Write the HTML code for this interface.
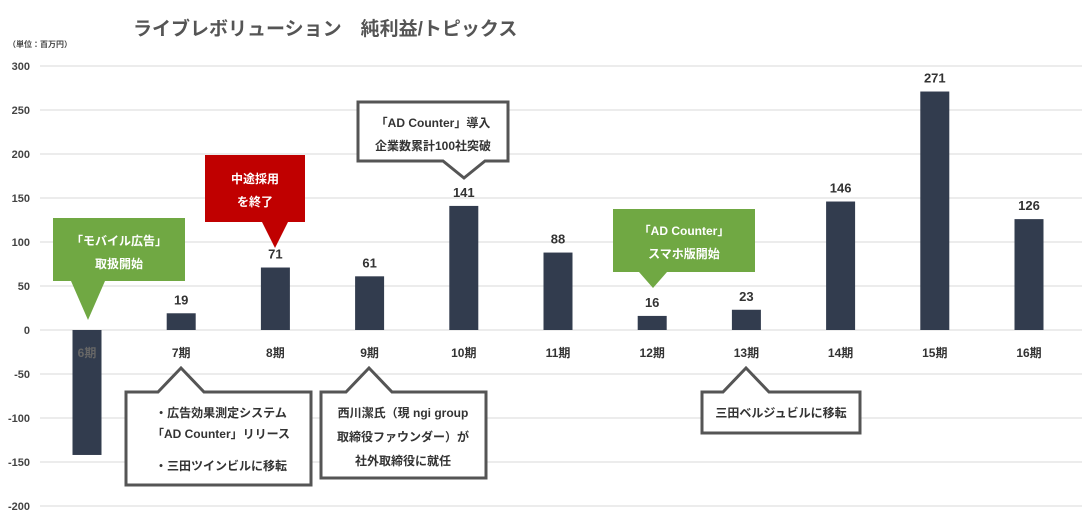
<!DOCTYPE html>
<html><head><meta charset="utf-8"><style>
body{margin:0;background:#fff;}
svg text{font-family:"Liberation Sans","Noto Sans CJK JP",sans-serif;font-weight:bold;}
</style></head><body>
<svg id="chart" width="1089" height="526" viewBox="0 0 1089 526" xmlns="http://www.w3.org/2000/svg">
<text x="133" y="35" font-size="19" fill="#555">ライブレボリューション　純利益/トピックス</text>
<text x="8" y="47" font-size="8" fill="#444">（単位：百万円）</text>
<g id="grid"></g><g id="bars"></g>

<g>
<polygon points="53,218 185,218 185,281 105,281 88,320 71,281 53,281" fill="#70a843"/>
<text x="119" y="245" font-size="12" fill="#fff" text-anchor="middle">「モバイル広告」</text>
<text x="119" y="268" font-size="12" fill="#fff" text-anchor="middle">取扱開始</text></g>

<g>
<polygon points="205,155 305,155 305,222 288,222 275,248 262,222 205,222" fill="#c00000"/>
<text x="255" y="183" font-size="12" fill="#fff" text-anchor="middle">中途採用</text>
<text x="255" y="206" font-size="12" fill="#fff" text-anchor="middle">を終了</text></g>

<g>
<polygon points="358,102 508,102 508,161 485,161 464,178 443,161 358,161" fill="#fff" stroke="#555" stroke-width="3"/>
<text x="433" y="127" font-size="12" fill="#333" text-anchor="middle">「AD Counter」導入</text>
<text x="433" y="150" font-size="12" fill="#333" text-anchor="middle">企業数累計100社突破</text></g>

<g>
<polygon points="613,209 755,209 755,272 667,272 653,288 639,272 613,272" fill="#70a843"/>
<text x="684" y="235" font-size="12" fill="#fff" text-anchor="middle">「AD Counter」</text>
<text x="684" y="258" font-size="12" fill="#fff" text-anchor="middle">スマホ版開始</text></g>

<g>
<polygon points="126,392 158,392 181,368 204,392 311,392 311,485 126,485" fill="#fff" stroke="#555" stroke-width="3"/>
<text x="221" y="417" font-size="12" fill="#333" text-anchor="middle">・広告効果測定システム</text>
<text x="221" y="438" font-size="12" fill="#333" text-anchor="middle">「AD Counter」リリース</text>
<text x="221" y="470" font-size="12" fill="#333" text-anchor="middle">・三田ツインビルに移転</text></g>

<g>
<polygon points="321,392 346,392 369,368 392,392 486,392 486,478 321,478" fill="#fff" stroke="#555" stroke-width="3"/>
<text x="403" y="417" font-size="12" fill="#333" text-anchor="middle">西川潔氏（現 ngi group</text>
<text x="403" y="441" font-size="12" fill="#333" text-anchor="middle">取締役ファウンダー）が</text>
<text x="403" y="465" font-size="12" fill="#333" text-anchor="middle">社外取締役に就任</text></g>

<g>
<polygon points="702,392 723,392 746,368 769,392 860,392 860,433 702,433" fill="#fff" stroke="#555" stroke-width="3"/>
<text x="781" y="417" font-size="12" fill="#333" text-anchor="middle">三田ベルジュビルに移転</text></g>
</svg>
<script>
const categories=["6期","7期","8期","9期","10期","11期","12期","13期","14期","15期","16期"];
const values=[-142,19,71,61,141,88,16,23,146,271,126];
const valueLabels=["","19","71","61","141","88","16","23","146","271","126"];
const yTicks=[300,250,200,150,100,50,0,-50,-100,-150,-200];
const NS="http://www.w3.org/2000/svg";
const y=v=>330-v*0.88;
const x=i=>87+i*94.2;
const grid=document.getElementById('grid'),bars=document.getElementById('bars');
function mk(tag,attrs,parent,txt){const e=document.createElementNS(NS,tag);for(const k in attrs)e.setAttribute(k,attrs[k]);if(txt!==undefined)e.textContent=txt;parent.appendChild(e);return e;}
yTicks.forEach(t=>{
 const l=mk('line',{x1:40,x2:1082,y1:y(t),y2:y(t),stroke:'#d9d9d9','stroke-width':1},grid);
 
 
 const tx=mk('text',{x:30,y:y(t)+4,'font-size':11,fill:'#444','text-anchor':'end'},grid,String(t));
 
 
});
values.forEach((v,i)=>{
 const top=Math.min(y(v),y(0)),h=Math.abs(y(v)-y(0));
 const r=mk('rect',{x:x(i)-14.5,y:top,width:29,height:h,fill:'#323c4e'},bars);
 
 
 if(valueLabels[i]){
  const t=mk('text',{x:x(i),y:y(v)-9,'font-size':13,fill:'#333','text-anchor':'middle'},bars,valueLabels[i]);
  
  
 }
 const c=mk('text',{x:x(i),y:357,'font-size':12,fill:v<0?'#666':'#333','text-anchor':'middle'},bars,categories[i]);
 
 
});
</script>
</body></html>
